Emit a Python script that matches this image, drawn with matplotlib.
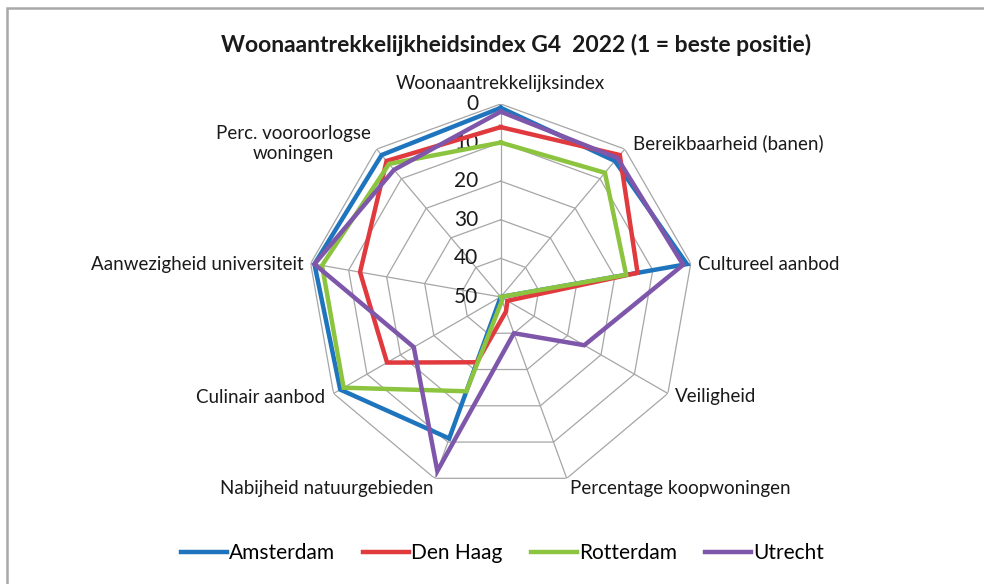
import numpy as np
import matplotlib
matplotlib.use("Agg")
import matplotlib.pyplot as plt
from matplotlib.patches import Rectangle

plt.rcParams['font.family'] = ['Lato', 'DejaVu Sans']

# data: rank per indicator (1 = beste positie)
categories = ["Woonaantrekkelijksindex", "Bereikbaarheid (banen)", "Cultureel aanbod",
              "Veiligheid", "Percentage koopwoningen", "Nabijheid natuurgebieden",
              "Culinair aanbod", "Aanwezigheid universiteit", "Perc. vooroorlogse\nwoningen"]
amsterdam = [1, 4, 1, 50, 50, 11, 2, 1, 2]
den_haag = [6, 2, 14, 48, 46, 32, 16, 13, 4]
rotterdam = [10, 8, 17, 50, 49, 24, 3, 3, 5]
utrecht = [2, 3, 2, 25, 40, 2, 24, 1, 7]
series_names = ["Amsterdam", "Den Haag", "Rotterdam", "Utrecht"]
rings = [0, 10, 20, 30, 40, 50]

colors = ['#1F74BE', '#E0393E', '#8CC43F', '#7E57AA']
grid_col = '#A6A6A6'

n = len(categories)
theta = np.arange(n) * 2 * np.pi / n
theta_closed = np.append(theta, theta[0])

fig = plt.figure(figsize=(9.84, 5.84), dpi=100)
fig.patch.set_facecolor('white')

# light grey frame (top + left edge)
fig.add_artist(Rectangle((7 / 984, -0.1), 1.2, 1.1 - 8 / 584,
                         transform=fig.transFigure, fill=False,
                         edgecolor='#A9A9A9', lw=1.8))

ax = fig.add_axes([0.3127, 0.161, 0.3923, 0.661], projection='polar')
ax.set_theta_offset(np.pi / 2)
ax.set_theta_direction(-1)
ax.set_ylim(50, 0)
ax.grid(False)
ax.spines['polar'].set_visible(False)
ax.set_xticks([])
ax.set_yticks([])
ax.patch.set_alpha(0)

# polygon grid
for r in rings[:-1]:
    ax.plot(theta_closed, [r] * (n + 1), color=grid_col, lw=0.9, zorder=1)
for t in theta:
    ax.plot([t, t], [rings[-1], rings[0]], color=grid_col, lw=0.9, zorder=1)

# radial tick labels
for r in rings:
    ax.annotate(str(r), xy=(0, r), xytext=(-16, 0), textcoords='offset points',
                ha='right', va='center', fontsize=15, color='#1A1A1A',
                annotation_clip=False)

# series
for vals, name, c in zip([amsterdam, den_haag, rotterdam, utrecht], series_names, colors):
    ax.plot(theta_closed, vals + vals[:1], color=c, lw=3.2, label=name,
            solid_joinstyle='miter', zorder=3)

# category labels
offsets = [(0, 15, 'center', 'center'), (6, 4, 'left', 'center'),
           (5, -1, 'left', 'center'), (5, -2, 'left', 'center'),
           (2, -7, 'left', 'center'), (-1, -7, 'right', 'center'),
           (-6, -3, 'right', 'center'), (-5, -1, 'right', 'center'),
           (-60, 4, 'center', 'center')]
for t, lab, (dx, dy, ha, va) in zip(theta, categories, offsets):
    ax.annotate(lab, xy=(t, 0), xytext=(dx, dy), textcoords='offset points',
                ha=ha, va=va, fontsize=13.5, color='#1A1A1A',
                multialignment='center', linespacing=1.25, annotation_clip=False)

fig.text(0.5244, 0.923, "Woonaantrekkelijkheidsindex G4  2022 (1 = beste positie)",
         ha='center', va='center', fontsize=16.5, fontweight='bold', color='#1A1A1A')

fig.legend(loc='center', bbox_to_anchor=(0.5107, 0.053), ncol=4, frameon=False,
           fontsize=15, handlelength=2.2, handletextpad=0.1, columnspacing=1.35)

fig.savefig("out.png", dpi=100, facecolor='white')
